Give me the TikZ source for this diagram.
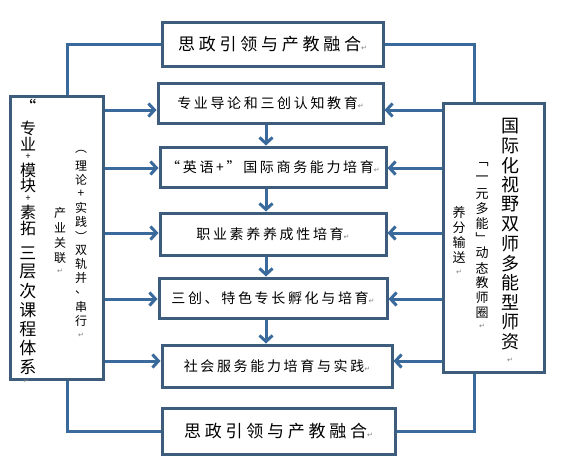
\documentclass[tikz,border=0pt]{standalone}
\usepackage{fontspec}
\setmainfont{Noto Sans CJK SC}
\newfontfamily\symf{DejaVu Sans}
\newfontfamily\widefont[LetterSpace=19]{Noto Sans CJK SC}
\newfontfamily\widerfont[LetterSpace=22]{Noto Sans CJK SC}
\usetikzlibrary{arrows.meta,calc}
\definecolor{bordercol}{RGB}{62,92,124}
\definecolor{linecol}{RGB}{58,106,156}
\newcommand{\pmark}{{\symf\fontsize{7}{7}\selectfont\color{gray}↵}}
\tikzset{
  box/.style={draw=bordercol,line width=3pt,fill=white,inner sep=0pt,text=black},
  midtext/.style={font=\widefont\fontsize{14}{16}\selectfont},
  bigtext/.style={font=\widerfont\fontsize{17}{19}\selectfont},
  conn/.style={draw=linecol,line width=3pt},
  arr/.style={conn,-{Straight Barb[length=6pt,width=13pt]}},
  vbig/.style={inner sep=0pt,font=\fontsize{18}{18}\selectfont},
  vleft/.style={inner sep=0pt,font=\fontsize{17}{17}\selectfont},
  vlefttop/.style={inner sep=0pt,font=\fontsize{16}{16}\selectfont},
  vplus/.style={inner sep=0pt,font=\fontsize{9}{9}\selectfont},
  vsmall/.style={inner sep=0pt,font=\fontsize{12}{12}\selectfont},
  vmid/.style={inner sep=0pt,font=\fontsize{13}{13}\selectfont}
}
\begin{document}
\begin{tikzpicture}[x=1pt,y=-1pt]
\fill[white] (0,0) rectangle (564,467);
\useasboundingbox (0,0) rectangle (564,467);

% main column
\node[box,bigtext,minimum width=221pt,minimum height=44pt] (T) at (272.5,44) {思政引领与产教融合\pmark};
\node[box,midtext,minimum width=225pt,minimum height=40pt] (b2) at (270.5,103) {专业导论和三创认知教育\pmark};
\node[box,midtext,minimum width=226pt,minimum height=40pt] (b3) at (273,167) {“英语+”国际商务能力培育\pmark};
\node[box,midtext,minimum width=226pt,minimum height=42pt] (b4) at (273,234) {职业素养养成性培育\pmark};
\node[box,midtext,minimum width=228pt,minimum height=40pt] (b5) at (273,298) {三创、特色专长孵化与培育\pmark};
\node[box,midtext,minimum width=230pt,minimum height=42pt] (b6) at (277,366) {社会服务能力培育与实践\pmark};
\node[box,bigtext,minimum width=233pt,minimum height=46pt] (B) at (278.5,431.5) {思政引领与产教融合\pmark};

% side boxes
\node[box,minimum width=93pt,minimum height=283pt] (L) at (56.5,237.5) {};
\node[box,minimum width=101pt,minimum height=269pt] (R) at (493.5,237.5) {};

% vertical texts, left box
\node[vleft] (lq) at (28,106) {“};
\foreach \c/\y [count=\i] in {专/128,业/144,模/170,块/186,素/212,拓/228}
  \node[vlefttop] (la\i) at (28,\y) {\c};
\node[vplus] (lp1) at (28,157) {+};
\node[vplus] (lp2) at (28,199) {+};
\foreach \c/\y [count=\i] in {三/253,层/272,次/291,课/310,程/329,体/348,系/367}
  \node[vleft] (lz\i) at (28,\y) {\c};
\node[inner sep=0pt] (laend) at (26,381) {\pmark};
\foreach \c/\y [count=\i] in {︵/152,理/166,论/180,+/194,实/208,践/222,︶/236,双/250,轨/264,并/278,、/292,串/307,行/321}
  \node[vsmall] (lb\i) at (81,\y) {\c};
\node[inner sep=0pt] (lbend) at (81,335) {\pmark};
\foreach \c/\y [count=\i] in {产/213,业/228,关/243,联/258}
  \node[vsmall] (lc\i) at (60,\y) {\c};
\node[inner sep=0pt] (lcend) at (60,271) {\pmark};

% vertical texts, right box
\foreach \c [count=\i] in {国,际,化,视,野,双,师,多,能,型,师,资}
  \node[vbig] (ra\i) at (510,{126+19.6*(\i-1)}) {\c};
\node[inner sep=0pt] (raend) at (510,360) {\pmark};
\foreach \c/\y [count=\i] in {﹁/165,一/179,元/194,多/209,能/224,﹂/238,动/253,态/268,教/283,师/298,圈/313}
  \node[vmid] (rb\i) at (482,\y) {\c};
\node[inner sep=0pt] (rbend) at (482,326) {\pmark};
\foreach \c/\y [count=\i] in {养/213,分/228,输/243,送/258}
  \node[vmid] (rc\i) at (459,\y) {\c};
\node[inner sep=0pt] (rcend) at (459,272) {\pmark};

% helper coordinates
\coordinate (lx) at (67,0);
\coordinate (rx) at (474,0);
\coordinate (vx) at (266,0);
\coordinate (r2) at (0,110);
\coordinate (r3) at (0,168);
\coordinate (r4) at (0,233);
\coordinate (r5) at (0,299);
\coordinate (r6) at (0,361);

% frame connectors
\draw[conn] (L.north -| lx) |- (T.west);
\draw[conn] (L.south -| lx) |- (B.west);
\draw[conn] (R.north -| rx) |- (T.east);
\draw[conn] (R.south -| rx) |- (B.east);

% vertical arrows
\draw[arr] (b2.south -| vx) -- (b3.north -| vx);
\draw[arr] (b3.south -| vx) -- (b4.north -| vx);
\draw[arr] (b4.south -| vx) -- (b5.north -| vx);
\draw[arr] (b5.south -| vx) -- (b6.north -| vx);

% arrows from side boxes
\foreach \k in {2,3,4,5,6}{
  \draw[arr] (L.east |- r\k) -- (b\k.west |- r\k);
  \draw[arr] (R.west |- r\k) -- (b\k.east |- r\k);
}
\end{tikzpicture}
\end{document}
